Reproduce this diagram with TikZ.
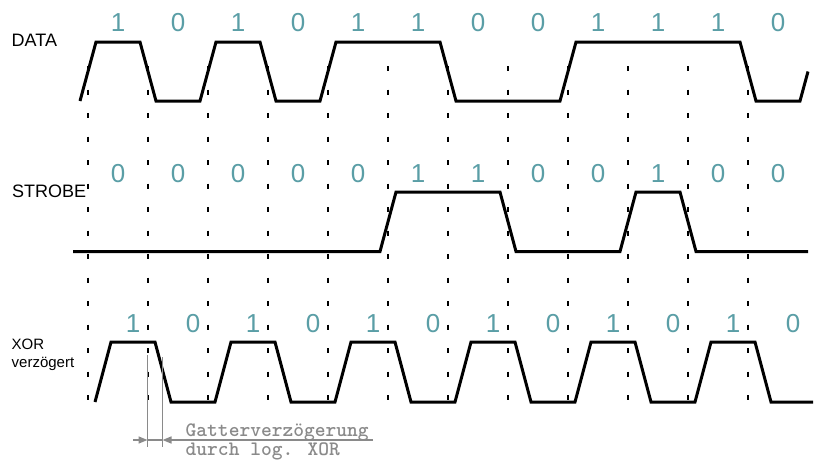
\documentclass[tikz,border=0pt]{standalone}
\usepackage{fontspec}
\setmainfont{Liberation Sans}
\usetikzlibrary{arrows.meta}
\definecolor{bitcol}{HTML}{5A9EA6}
\definecolor{annot}{HTML}{8A8A8A}
\begin{document}
\begin{tikzpicture}[x=1pt,y=-1pt,
  wave/.style={line width=3pt, black},
  gridline/.style={line width=1.4pt, black, dash pattern=on 5pt off 18.5pt},
  bit/.style={text=bitcol, font=\fontsize{26}{26}\selectfont, anchor=base, inner sep=0pt},
  siglabel/.style={font=\fontsize{18}{18}\selectfont, anchor=base west, inner sep=0pt},
  smalllabel/.style={font=\fontsize{15}{15}\selectfont, anchor=base west, inner sep=0pt},
  annotline/.style={line width=1.5pt, annot},
  annottip/.style={-{Triangle[length=9pt,width=7pt]}},
  annottext/.style={text=annot, font=\ttfamily\bfseries\fontsize{20.5}{20.5}\selectfont, anchor=base west, inner sep=0pt}
]
\useasboundingbox (0,0) rectangle (814,459);

% dashed bit boundaries
\foreach \k in {0,...,11} {
  \draw[gridline] (88+60*\k,66) -- (88+60*\k,401);
}

% DATA waveform
\draw[wave] (80,101) -- (96,42) -- (140,42) -- (156,101) -- (200,101) -- (216,42)
  -- (260,42) -- (276,101) -- (320,101) -- (336,42) -- (440,42) -- (456,101)
  -- (560,101) -- (576,42) -- (740,42) -- (756,101) -- (800,101) -- (808,71.5);

% STROBE waveform
\draw[wave] (73,251.5) -- (380,251.5) -- (396,192) -- (500,192) -- (516,251.5)
  -- (620,251.5) -- (636,192) -- (680,192) -- (696,251.5) -- (808,251.5);

% XOR (delayed) waveform
\draw[wave] (95,402) -- (111,342) -- (155,342) -- (171,402) -- (215,402) -- (231,342)
  -- (275,342) -- (291,402) -- (335,402) -- (351,342) -- (395,342) -- (411,402)
  -- (455,402) -- (471,342) -- (515,342) -- (531,402) -- (575,402) -- (591,342)
  -- (635,342) -- (651,402) -- (695,402) -- (711,342) -- (755,342) -- (771,402)
  -- (813,402);

% signal labels
\node[siglabel] (lData) at (11.5,46) {DATA};
\node[siglabel] (lStrobe) at (12,197) {STROBE};
\node[smalllabel] (lXor) at (11.5,349) {XOR};
\node[smalllabel] (lXor2) at (11.5,367) {verzögert};

% bit values
\foreach \b [count=\i from 0] in {1,0,1,0,1,1,0,0,1,1,1,0}
  \node[bit] (data\i) at (118+60*\i,31.5) {\b};
\foreach \b [count=\i from 0] in {0,0,0,0,0,1,1,0,0,1,0,0}
  \node[bit] (strobe\i) at (118+60*\i,182) {\b};
\foreach \b [count=\i from 0] in {1,0,1,0,1,0,1,0,1,0,1,0}
  \node[bit] (xor\i) at (133+60*\i,332) {\b};

% gate delay annotation
\coordinate (g1top) at (147.5,355);
\coordinate (g1bot) at (147.5,447);
\coordinate (g2top) at (162.5,357);
\coordinate (g2bot) at (162.5,447);
\coordinate (atail) at (133,440);
\coordinate (ahead1) at (147.5,440);
\coordinate (ahead2) at (162.5,440);
\coordinate (aend) at (373,440);
\draw[annotline] (g1top) -- (g1bot);
\draw[annotline] (g2top) -- (g2bot);
\draw[annotline,annottip] (atail) -- (ahead1);
\draw[annotline] (ahead1) -- (ahead2);
\draw[annotline,annottip] (aend) -- (ahead2);
\node[annottext] (gv1) at (185.5,436) {Gatterverzögerung};
\node[annottext] (gv2) at (185.5,455) {durch log. XOR};
\end{tikzpicture}
\end{document}
